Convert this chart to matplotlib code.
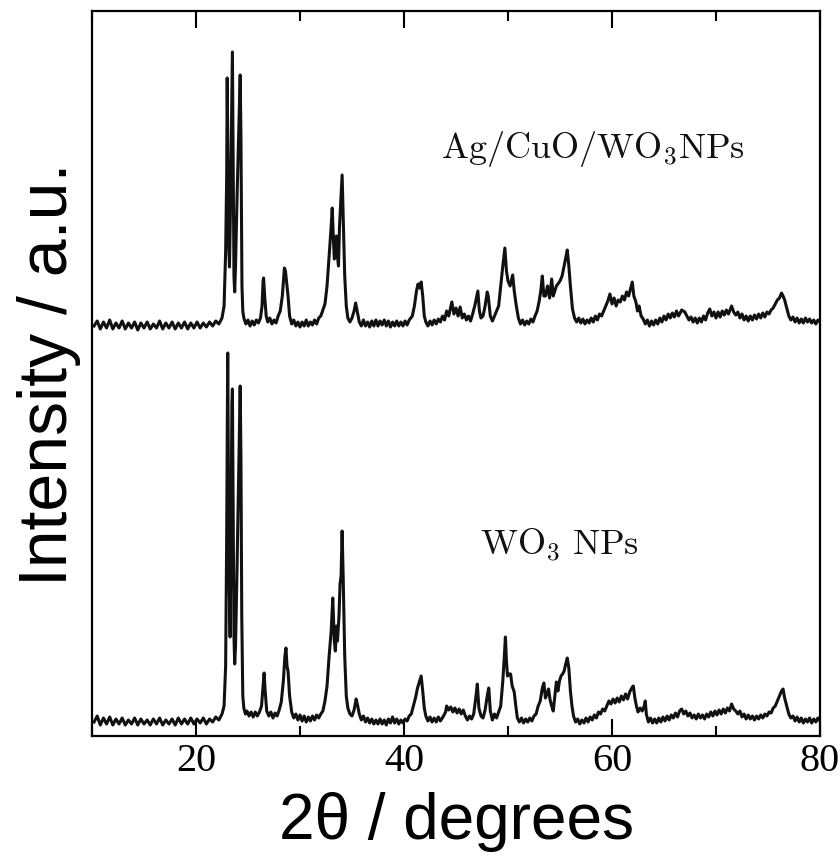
import matplotlib
matplotlib.use("Agg")
import matplotlib.pyplot as plt
from matplotlib.ticker import MultipleLocator

# ---------------- data ----------------
tt_wo3 = [10.2, 10.5, 10.8, 11.1, 11.4, 11.7, 12.0, 12.3, 12.6, 12.9, 13.2, 13.5, 13.8, 14.1, 14.4, 14.7,
          15.0, 15.3, 15.6, 15.9, 16.2, 16.5, 16.8, 17.1, 17.4, 17.7, 18.0, 18.3, 18.6, 18.9, 19.2, 19.5,
          19.8, 20.1, 20.4, 20.7, 21.0, 21.3, 21.6, 21.9, 22.2,
          22.5, 22.7, 22.85, 22.95, 23.05, 23.12, 23.2, 23.28, 23.35, 23.45, 23.5, 23.56, 23.65, 23.72,
          23.8, 23.95, 24.1, 24.25, 24.32, 24.4, 24.5, 24.6, 24.75, 24.9, 25.1, 25.3, 25.5, 25.7, 25.9,
          26.1, 26.3, 26.45, 26.55, 26.65, 26.8, 27.0, 27.2, 27.4, 27.6, 27.8, 28.0, 28.2, 28.4, 28.55,
          28.65, 28.75, 28.85, 29.0, 29.2, 29.4, 29.6, 29.8, 30.0, 30.2, 30.4, 30.6, 30.8, 31.0, 31.2,
          31.4, 31.6, 31.8, 32.0, 32.2, 32.4, 32.6, 32.8, 33.0, 33.15, 33.3, 33.4, 33.5, 33.6, 33.75,
          33.85, 33.95, 34.05, 34.15, 34.3, 34.45, 34.6, 34.8, 35.0, 35.2, 35.4, 35.55, 35.7, 35.9, 36.1,
          36.3, 36.5, 36.7, 36.9, 37.1, 37.3, 37.5, 37.7, 37.9, 38.1, 38.3, 38.5, 38.7, 38.9, 39.1, 39.3,
          39.5, 39.7, 39.9, 40.1, 40.3, 40.5, 40.7, 40.9, 41.1, 41.3, 41.5, 41.65, 41.8, 41.95, 42.1,
          42.3, 42.5, 42.7, 42.9, 43.1, 43.3, 43.5, 43.8, 44.0, 44.1, 44.3, 44.5, 44.7, 44.9, 45.1, 45.3,
          45.5, 45.7, 45.9, 46.1, 46.3, 46.5, 46.7, 46.9, 47.05, 47.2, 47.4, 47.6, 47.8, 48.0, 48.15,
          48.3, 48.5, 48.7, 48.9, 49.1, 49.3, 49.5, 49.65, 49.75, 49.85, 49.95, 50.1, 50.25, 50.4, 50.6,
          50.75, 50.9, 51.1, 51.3, 51.5, 51.7, 51.9, 52.1, 52.3, 52.5, 52.7, 52.9, 53.1, 53.3, 53.45,
          53.6, 53.75, 53.9, 54.05, 54.2, 54.35, 54.5, 54.65, 54.8, 54.95, 55.1, 55.25, 55.4, 55.55, 55.7,
          55.85, 56.0, 56.15, 56.3, 56.5, 56.7, 56.9, 57.1, 57.3, 57.5, 57.7, 57.9, 58.1, 58.3, 58.5,
          58.7, 58.9, 59.1, 59.3, 59.5, 59.7, 59.9, 60.1, 60.3, 60.5, 60.7, 60.9, 61.1, 61.3, 61.5, 61.7,
          61.9, 62.05, 62.2, 62.35, 62.5, 62.7, 62.9, 63.1, 63.2, 63.3, 63.5, 63.7, 63.9, 64.1, 64.3,
          64.5, 64.7, 64.9, 65.1, 65.3, 65.5, 65.7, 65.9, 66.1, 66.3, 66.5, 66.7, 66.9, 67.1, 67.3, 67.5,
          67.7, 67.9, 68.1, 68.3, 68.5, 68.7, 68.9, 69.1, 69.3, 69.5, 69.7, 69.9, 70.1, 70.3, 70.5, 70.7,
          70.9, 71.1, 71.3, 71.5, 71.7, 71.9, 72.1, 72.3, 72.5, 72.7, 72.9, 73.1, 73.3, 73.5, 73.7, 73.9,
          74.1, 74.3, 74.5, 74.7, 74.9, 75.1, 75.3, 75.5, 75.7, 75.9, 76.1, 76.3, 76.45, 76.6, 76.8,
          77.0, 77.2, 77.4, 77.6, 77.8, 78.0, 78.2, 78.4, 78.6, 78.8, 79.0, 79.2, 79.4, 79.6, 79.8, 80.0]
int_wo3 = [14, 20, 11, 18, 12, 19, 11, 17, 12, 18, 11, 16, 12, 18, 11, 17,
           12, 16, 11, 17, 12, 18, 11, 16, 12, 17, 11, 18, 12, 17, 12, 18,
           12, 17, 13, 18, 12, 17, 14, 19, 16,
           22, 30, 70, 200, 383, 250, 150, 99, 180, 330, 347, 250, 100, 72,
           90, 170, 260, 350, 280, 120, 40, 28, 22, 25, 20, 24, 19, 24, 20,
           24, 30, 50, 63, 45, 25, 20, 24, 18, 23, 20, 26, 34, 55, 80,
           88, 70, 65, 40, 24, 18, 22, 16, 21, 15, 20, 14, 19, 15, 20,
           16, 21, 18, 22, 25, 35, 50, 80, 105, 138, 95, 85, 110, 95, 120,
           152, 160, 205, 160, 80, 40, 28, 22, 20, 26, 37, 30, 22, 16, 20,
           14, 18, 13, 17, 12, 16, 12, 17, 12, 16, 11, 17, 13, 19, 13, 17,
           12, 16, 13, 17, 15, 20, 22, 30, 38, 48, 55, 60, 45, 28, 20,
           15, 19, 14, 18, 14, 19, 15, 20, 24, 30, 26, 29, 24, 28, 23, 27,
           22, 26, 20, 16, 20, 17, 22, 38, 52, 28, 20, 18, 26, 40, 48,
           25, 16, 22, 18, 24, 30, 55, 80, 99, 75, 60, 62, 62, 50, 44,
           30, 18, 14, 18, 13, 17, 14, 18, 15, 20, 22, 30, 35, 48, 53,
           38, 42, 47, 36, 30, 25, 40, 54, 45, 55, 60, 62, 65, 72, 78,
           68, 45, 30, 20, 14, 17, 12, 16, 13, 18, 14, 19, 16, 21, 18,
           24, 22, 27, 25, 30, 35, 32, 37, 33, 38, 34, 40, 36, 42, 37, 44,
           48, 50, 38, 30, 24, 28, 25, 30, 35, 22, 14, 18, 13, 17, 13,
           18, 14, 19, 15, 20, 16, 21, 18, 23, 19, 25, 27, 22, 25, 20, 23,
           18, 21, 17, 22, 18, 21, 17, 22, 19, 24, 20, 25, 21, 26, 22, 27,
           23, 28, 25, 32, 27, 25, 22, 25, 19, 22, 17, 21, 17, 20, 16, 20,
           17, 21, 18, 22, 20, 24, 23, 28, 30, 35, 40, 45, 47, 38, 30,
           22, 18, 20, 15, 19, 14, 18, 13, 17, 14, 18, 13, 17, 14, 18, 15]

tt_ag = [10.2, 10.5, 10.8, 11.1, 11.4, 11.7, 12.0, 12.3, 12.6, 12.9, 13.2, 13.5, 13.8, 14.1, 14.4, 14.7,
         15.0, 15.3, 15.6, 15.9, 16.2, 16.5, 16.8, 17.1, 17.4, 17.7, 18.0, 18.3, 18.6, 18.9, 19.2, 19.5,
         19.8, 20.1, 20.4, 20.7, 21.0, 21.3, 21.6, 21.9, 22.2,
         22.5, 22.7, 22.85, 22.95, 23.0, 23.08, 23.15, 23.22, 23.3, 23.4, 23.5, 23.58, 23.65, 23.72,
         23.8, 23.95, 24.1, 24.25, 24.32, 24.42, 24.5, 24.6, 24.8, 25.0, 25.2, 25.4, 25.6, 25.8, 26.0,
         26.2, 26.35, 26.45, 26.5, 26.6, 26.75, 26.9, 27.1, 27.3, 27.5, 27.7, 27.9, 28.1, 28.3, 28.5,
         28.6, 28.7, 28.85, 29.0, 29.2, 29.4, 29.6, 29.8, 30.0, 30.2, 30.4, 30.6, 30.8, 31.0, 31.2,
         31.4, 31.6, 31.8, 32.0, 32.2, 32.4, 32.6, 32.8, 33.0, 33.1, 33.2, 33.3, 33.4, 33.5, 33.6,
         33.7, 33.8, 33.95, 34.05, 34.15, 34.3, 34.45, 34.6, 34.8, 35.0, 35.2, 35.35, 35.5, 35.7, 35.9,
         36.1, 36.3, 36.5, 36.7, 36.9, 37.1, 37.3, 37.5, 37.7, 37.9, 38.1, 38.3, 38.5, 38.7, 38.9,
         39.1, 39.3, 39.5, 39.7, 39.9, 40.1, 40.3, 40.5, 40.8, 41.0, 41.2, 41.35, 41.5, 41.65, 41.8,
         41.95, 42.1, 42.3, 42.5, 42.7, 42.9, 43.1, 43.3, 43.5, 43.7, 43.9, 44.1, 44.3, 44.6, 44.8,
         45.0, 45.2, 45.4, 45.6, 45.8, 46.0, 46.2, 46.4, 46.6, 46.8, 47.0, 47.1, 47.25, 47.4, 47.6,
         47.8, 48.0, 48.1, 48.3, 48.5, 48.7, 48.9, 49.1, 49.3, 49.5, 49.7, 49.85, 50.0, 50.2, 50.45,
         50.6, 50.8, 51.0, 51.2, 51.4, 51.6, 51.8, 52.0, 52.2, 52.4, 52.6, 52.8, 53.0, 53.15, 53.3,
         53.45, 53.6, 53.8, 54.0, 54.2, 54.35, 54.5, 54.65, 54.8, 55.0, 55.2, 55.4, 55.55, 55.7, 55.85,
         56.0, 56.2, 56.4, 56.6, 56.8, 57.0, 57.2, 57.4, 57.6, 57.8, 58.0, 58.2, 58.4, 58.6, 58.8,
         59.0, 59.2, 59.4, 59.6, 59.8, 60.0, 60.2, 60.4, 60.6, 60.8, 61.0, 61.2, 61.4, 61.6, 61.8,
         61.95, 62.1, 62.3, 62.45, 62.6, 62.8, 63.0, 63.2, 63.4, 63.6, 63.8, 64.0, 64.2, 64.4, 64.6,
         64.8, 65.0, 65.2, 65.4, 65.6, 65.8, 66.0, 66.2, 66.4, 66.7, 67.0, 67.2, 67.4, 67.6, 67.8,
         68.0, 68.2, 68.4, 68.6, 68.8, 69.0, 69.2, 69.4, 69.6, 69.8, 70.0, 70.2, 70.4, 70.6, 70.8,
         71.0, 71.2, 71.5, 71.7, 71.9, 72.1, 72.3, 72.5, 72.7, 72.9, 73.1, 73.3, 73.5, 73.7, 73.9,
         74.1, 74.3, 74.5, 74.7, 74.9, 75.1, 75.3, 75.5, 75.7, 75.9, 76.1, 76.3, 76.45, 76.6, 76.8,
         77.0, 77.2, 77.4, 77.6, 77.8, 78.0, 78.2, 78.4, 78.6, 78.8, 79.0, 79.2, 79.4, 79.6, 79.8, 80.0]
int_ag = [410, 415, 407, 414, 408, 416, 407, 413, 408, 415, 407, 413, 408, 414, 406, 413,
          408, 414, 407, 412, 408, 415, 407, 413, 408, 414, 407, 413, 408, 414, 407, 413,
          408, 414, 408, 413, 409, 414, 410, 415, 412,
          418, 430, 484, 560, 658, 560, 490, 469, 520, 600, 684, 560, 460, 444,
          470, 540, 600, 661, 600, 450, 425, 418, 412, 416, 410, 415, 411, 416, 413,
          418, 430, 455, 458, 440, 420, 414, 418, 412, 416, 413, 420, 425, 440, 468,
          465, 455, 440, 420, 412, 416, 410, 414, 409, 414, 410, 416, 410, 414, 411,
          416, 412, 418, 420, 426, 432, 450, 480, 510, 528, 500, 477, 480, 500, 480,
          470, 510, 540, 561, 520, 460, 430, 418, 414, 418, 425, 433, 425, 414, 410,
          416, 410, 414, 409, 415, 410, 416, 410, 415, 411, 416, 410, 415, 409, 414,
          410, 415, 410, 414, 410, 415, 411, 416, 420, 430, 445, 452, 448, 454, 440,
          420, 414, 410, 415, 411, 416, 412, 417, 414, 420, 416, 425, 420, 434, 422,
          428, 420, 429, 418, 422, 416, 420, 415, 422, 430, 440, 445, 425, 418, 420,
          430, 444, 440, 420, 415, 420, 425, 430, 450, 470, 488, 465, 455, 450, 461,
          445, 430, 418, 412, 416, 411, 415, 412, 417, 414, 420, 425, 435, 445, 460,
          440, 440, 450, 438, 457, 440, 445, 450, 452, 455, 460, 470, 478, 486, 470,
          450, 427, 418, 414, 418, 413, 417, 412, 416, 413, 418, 414, 420, 416, 422,
          420, 425, 430, 435, 442, 432, 438, 430, 436, 434, 440, 436, 444, 440, 448,
          454, 440, 434, 425, 430, 420, 417, 412, 416, 410, 415, 411, 416, 412, 418,
          414, 420, 416, 422, 418, 423, 419, 425, 420, 426, 424, 420, 416, 419, 414,
          418, 413, 418, 414, 420, 416, 423, 427, 420, 424, 418, 424, 419, 425, 421,
          426, 422, 430, 424, 421, 424, 418, 422, 416, 420, 415, 420, 416, 421, 417,
          422, 418, 423, 419, 424, 422, 426, 428, 432, 436, 438, 443, 440, 436, 428,
          420, 416, 419, 414, 418, 413, 417, 413, 418, 414, 417, 413, 416, 412, 416, 414]

x_ticks = [20, 40, 60, 80]
label_top = r"$\mathrm{Ag/CuO/WO_3NPs}$"
label_bottom = r"$\mathrm{WO_3\ NPs}$"

# ---------------- figure ----------------
plt.rcParams["mathtext.fontset"] = "cm"
fig = plt.figure(figsize=(8.4, 8.62), dpi=100)
ax = fig.add_axes([92 / 840, 125 / 862, 728 / 840, 725 / 862])

ax.plot(tt_wo3, int_wo3, color="#111111", lw=2.2)
ax.plot(tt_ag, int_ag, color="#111111", lw=2.2)

ax.set_xlim(10, 80)
ax.set_ylim(0, 725)
ax.set_xticks(x_ticks)
ax.xaxis.set_minor_locator(MultipleLocator(10))
ax.set_yticks([])
ax.tick_params(axis="x", which="both", direction="in", top=True, bottom=True, width=1.5,
               pad=4)
ax.tick_params(axis="x", which="major", length=12)
ax.tick_params(axis="x", which="minor", length=7)
for lab in ax.get_xticklabels():
    lab.set_fontfamily("Liberation Serif")
    lab.set_fontsize(29)
for s in ax.spines.values():
    s.set_linewidth(1.6)

ax.set_xlabel("2θ / degrees", fontfamily="Liberation Sans", fontsize=46, labelpad=9)
ax.set_ylabel("Intensity / a.u.", fontfamily="Liberation Sans", fontsize=49, labelpad=8)

ax.text(43.6, 579, label_top, fontsize=26, ha="left", va="baseline", color="#111111")
ax.text(47.3, 182, label_bottom, fontsize=26, ha="left", va="baseline", color="#111111")

fig.savefig("out.png", dpi=100)
